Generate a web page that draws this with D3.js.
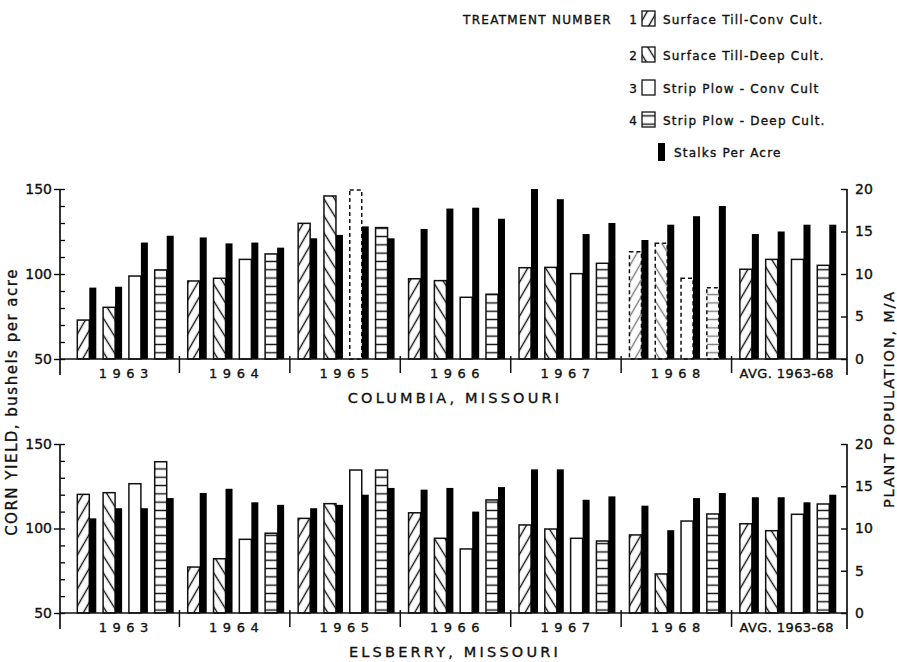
<!DOCTYPE html>
<html>
<head>
<meta charset="utf-8">
<script src="https://cdnjs.cloudflare.com/ajax/libs/d3/7.8.5/d3.min.js"></script>
<style>
  body { margin: 0; background: #fff; }
  svg { display: block; }
  text { font-family: "DejaVu Sans", sans-serif; fill: #111; stroke: #111; stroke-width: 0.35px; }
</style>
</head>
<body>
<div id="chart"></div>
<script>
// years / groups along the x axis
var years = ['1963', '1964', '1965', '1966', '1967', '1968', 'AVG. 1963-68'];
var treatments = [1, 2, 3, 4];
var treatmentLabels = ['Surface  Till-Conv Cult.', 'Surface  Till-Deep Cult.', 'Strip Plow - Conv Cult', 'Strip Plow - Deep Cult.'];
var stalksLabel = 'Stalks Per Acre';

// Columbia, Missouri - corn yield (bu/acre) per treatment 1..4
var columbiaYield = [
    [72.9, 80.4, 98.8, 102.4],
    [95.9, 97.5, 108.6, 111.8],
    [129.8, 145.9, 149.4, 127.3],
    [97.2, 96.1, 86.3, 88.1],
    [103.7, 103.9, 100.2, 106.3],
    [113.1, 118.1, 97.5, 91.9],
    [102.8, 108.6, 108.6, 105.1]
];
// Columbia - plant population (stalks per acre, M/A)
var columbiaStalks = [
    [8.4, 8.5, 13.7, 14.5],
    [14.3, 13.6, 13.7, 13.1],
    [14.2, 14.6, 15.6, 14.2],
    [15.3, 17.7, 17.8, 16.5],
    [20.0, 18.8, 14.7, 16.0],
    [14.0, 15.8, 16.8, 18.0],
    [14.7, 15.0, 15.8, 15.8]
];
// Elsberry, Missouri
var elsberryYield = [
    [120.2, 121.2, 126.5, 139.5],
    [77.2, 82.1, 93.6, 97.2],
    [106.0, 114.7, 134.6, 134.6],
    [109.3, 94.2, 87.9, 116.9],
    [102.1, 99.7, 94.2, 92.6],
    [96.2, 73.1, 104.4, 108.6],
    [102.8, 98.7, 108.4, 114.5]
];
var elsberryStalks = [
    [11.2, 12.4, 12.4, 13.6],
    [14.2, 14.7, 13.1, 12.8],
    [12.4, 12.8, 14.0, 14.8],
    [14.6, 14.8, 12.0, 14.9],
    [17.0, 17.0, 13.4, 13.8],
    [12.7, 9.8, 13.6, 14.2],
    [13.7, 13.7, 13.1, 14.0]
];
// bars printed faintly in the original (year index, treatment index)
var columbiaFaint = [[2, 2], [5, 0], [5, 1], [5, 2], [5, 3]];

var yieldTicks = [50, 100, 150];
var stalkTicks = [0, 5, 10, 15, 20];

var width = 897, height = 662;
var axisLeftX = 60, axisRightX = 847;

var svg = d3.select('#chart').append('svg')
    .attr('width', width)
    .attr('height', height);

svg.append('rect').attr('width', width).attr('height', height).attr('fill', '#fff');

// hatch patterns
var defs = svg.append('defs');
function hatch(id, angle, spacing) {
    var p = defs.append('pattern')
        .attr('id', id)
        .attr('patternUnits', 'userSpaceOnUse')
        .attr('width', spacing)
        .attr('height', spacing)
        .attr('patternTransform', 'rotate(' + angle + ')');
    p.append('rect').attr('width', spacing).attr('height', spacing).attr('fill', '#fff');
    p.append('line')
        .attr('x1', 0).attr('y1', spacing / 2)
        .attr('x2', spacing).attr('y2', spacing / 2)
        .attr('stroke', '#111').attr('stroke-width', 1.4);
}
hatch('t1', -60, 8.5);  // "/"
hatch('t2', 58, 9);     // "\"
hatch('t4', 0, 8.3);    // horizontal
var fills = ['url(#t1)', 'url(#t2)', '#fff', 'url(#t4)'];

// group and bar scales
var x = d3.scaleBand().domain(years).range([69, 842]).paddingInner(0);
var xInner = d3.scaleBand().domain(treatments).range([8.3, 111.5]);
var barW = 12, stalkW = 7;

function drawPanel(yieldData, stalkData, topY, baseY, title, faint) {
    var yL = d3.scaleLinear().domain([50, 150]).range([baseY, topY]);
    var yR = d3.scaleLinear().domain([0, 20]).range([baseY, topY]);
    var g = svg.append('g');

    var faintKey = {};
    (faint || []).forEach(function(f) { faintKey[f[0] + '-' + f[1]] = true; });

    var groups = g.selectAll('.grp')
        .data(years)
        .enter().append('g')
        .attr('transform', function(d) { return 'translate(' + x(d) + ',0)'; });

    groups.each(function(yr, i) {
        var gg = d3.select(this);
        treatments.forEach(function(t, j) {
            var v = yieldData[i][j];
            var s = stalkData[i][j];
            var isFaint = faintKey[i + '-' + j];
            gg.append('rect')
                .attr('x', xInner(t))
                .attr('y', yL(v))
                .attr('width', barW)
                .attr('height', baseY - yL(v))
                .attr('fill', fills[j])
                .attr('fill-opacity', isFaint ? 0.55 : 1)
                .attr('stroke', '#111')
                .attr('stroke-width', 1.5)
                .attr('stroke-dasharray', isFaint ? '4,3' : null);
            gg.append('rect')
                .attr('x', xInner(t) + barW)
                .attr('y', yR(s))
                .attr('width', stalkW)
                .attr('height', baseY - yR(s))
                .attr('fill', '#000');
        });
    });

    // left axis: labelled ticks + minor ticks
    var la = g.append('g').attr('transform', 'translate(' + axisLeftX + ',0)')
        .call(d3.axisLeft(yL).tickValues(yieldTicks).tickSize(6).tickPadding(2).tickFormat(d3.format('d')));
    la.select('.domain').remove();
    la.selectAll('text').attr('font-size', 14).attr('font-family', 'DejaVu Sans, sans-serif');
    la.selectAll('line').attr('stroke-width', 1.4);
    var lm = g.append('g').attr('transform', 'translate(' + axisLeftX + ',0)')
        .call(d3.axisRight(yL).tickValues(d3.range(50, 151, 10)).tickSize(5).tickFormat(''));
    lm.select('.domain').remove();
    lm.selectAll('line').attr('stroke-width', 1.3);

    // right axis
    var ra = g.append('g').attr('transform', 'translate(' + axisRightX + ',0)')
        .call(d3.axisRight(yR).tickValues(stalkTicks).tickSizeInner(-6).tickSizeOuter(0).tickPadding(8));
    ra.select('.domain').remove();
    ra.selectAll('text').attr('font-size', 14).attr('font-family', 'DejaVu Sans, sans-serif');
    ra.selectAll('line').attr('stroke-width', 1.4);

    // axis lines
    g.append('line').attr('x1', axisLeftX).attr('x2', axisLeftX)
        .attr('y1', topY).attr('y2', baseY + 16).attr('stroke', '#111').attr('stroke-width', 1.7);
    g.append('line').attr('x1', axisRightX).attr('x2', axisRightX)
        .attr('y1', topY).attr('y2', baseY + 16).attr('stroke', '#111').attr('stroke-width', 1.7);
    g.append('line').attr('x1', axisLeftX).attr('x2', axisRightX)
        .attr('y1', baseY).attr('y2', baseY).attr('stroke', '#111').attr('stroke-width', 1.7);

    // group separators
    g.selectAll('.sep')
        .data(years.slice(1))
        .enter().append('line')
        .attr('x1', function(d) { return x(d); })
        .attr('x2', function(d) { return x(d); })
        .attr('y1', baseY - 3).attr('y2', baseY + 14)
        .attr('stroke', '#111').attr('stroke-width', 1.5);

    // year labels
    g.selectAll('.yr')
        .data(years)
        .enter().append('text')
        .attr('x', function(d) { return x(d) + x.bandwidth() / 2 + (d.length > 4 ? 0 : 2); })
        .attr('y', baseY + 19)
        .attr('text-anchor', 'middle')
        .attr('font-size', 13)
        .attr('letter-spacing', function(d) { return d.length > 4 ? 0.4 : 5.5; })
        .text(function(d) { return d; });

    // panel title
    g.append('text')
        .attr('x', 455).attr('y', baseY + 44)
        .attr('text-anchor', 'middle')
        .attr('font-size', 14.5)
        .attr('letter-spacing', 3.2)
        .text(title);
}

drawPanel(columbiaYield, columbiaStalks, 189, 359, 'COLUMBIA, MISSOURI', columbiaFaint);
drawPanel(elsberryYield, elsberryStalks, 444, 613, 'ELSBERRY, MISSOURI', []);

// axis titles
svg.append('text')
    .attr('transform', 'translate(17,402) rotate(-90)')
    .attr('text-anchor', 'middle')
    .attr('font-size', 15)
    .attr('letter-spacing', 1.5)
    .text('CORN YIELD, bushels per acre');
svg.append('text')
    .attr('transform', 'translate(894,399) rotate(-90)')
    .attr('text-anchor', 'middle')
    .attr('font-size', 14.5)
    .attr('letter-spacing', 1.8)
    .text('PLANT POPULATION, M/A');

// legend
var legend = svg.append('g').attr('class', 'legend');
legend.append('text')
    .attr('x', 463).attr('y', 24)
    .attr('font-size', 12)
    .attr('letter-spacing', 1.3)
    .text('TREATMENT NUMBER');
var rowY = [19, 55, 88, 120];
treatments.forEach(function(t, j) {
    var r = legend.append('g').attr('transform', 'translate(0,' + rowY[j] + ')');
    r.append('text').attr('x', 637).attr('y', 5).attr('text-anchor', 'end')
        .attr('font-size', 12).text(t);
    r.append('rect').attr('x', 642).attr('y', -8).attr('width', 13).attr('height', 15)
        .attr('fill', fills[j]).attr('stroke', '#111').attr('stroke-width', 1.3);
    r.append('text').attr('x', 663).attr('y', 5)
        .attr('font-size', 12).attr('letter-spacing', 1.2).text(treatmentLabels[j]);
});
legend.append('rect').attr('x', 658).attr('y', 143).attr('width', 7).attr('height', 18).attr('fill', '#000');
legend.append('text').attr('x', 674).attr('y', 157).attr('font-size', 12)
    .attr('letter-spacing', 1.2).text(stalksLabel);
</script>
</body>
</html>
